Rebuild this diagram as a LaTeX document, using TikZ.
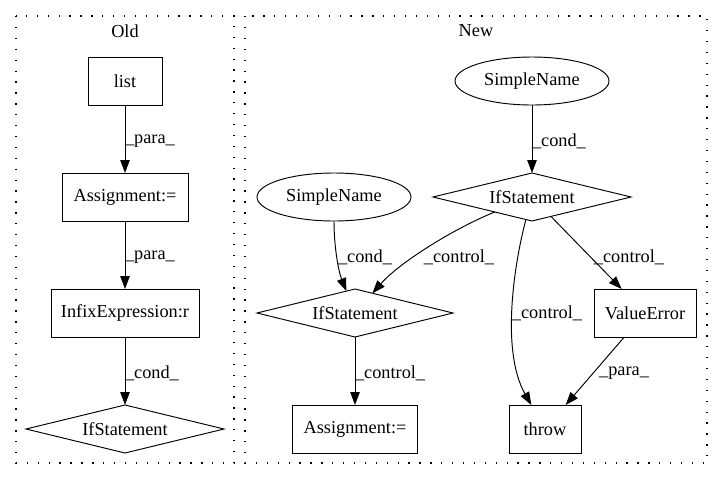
\documentclass[tikz,border=0pt]{standalone}
\usepackage{fontspec}
\setmainfont{Liberation Serif}
\usetikzlibrary{shapes.geometric,arrows.meta}
\begin{document}
\begin{tikzpicture}[x=1pt,y=-1pt,
  every node/.style={font=\fontsize{18.3}{22}\selectfont, inner sep=0pt, outer sep=0pt},
  box/.style={draw, line width=0.95pt, rectangle, minimum height=48pt},
  dia/.style={draw, line width=0.95pt, diamond, minimum height=48pt, aspect=4},
  ell/.style={draw, line width=0.95pt, ellipse, minimum width=154pt, minimum height=48pt},
  arr/.style={line width=0.95pt, -{Triangle[length=13pt,width=9.5pt]}},
  lbl/.style={anchor=west},
  cluster/.style={line width=1.1pt, dash pattern=on 1.3pt off 9.6pt}
]
\useasboundingbox (0,0) rectangle (723,480);
% clusters
\draw[cluster] (16,16) rectangle (234,463);
\draw[cluster] (245,16) rectangle (707,463);
\node (tOld) at (125,31) {Old};
\node (tNew) at (476,31) {New};

% Old
\node[box, minimum width=74pt] (list) at (125,81) {list};
\node[box, minimum width=126pt] (asgO) at (125,197) {Assignment:=};
\node[box, minimum width=148pt] (infix) at (125,313) {InfixExpression:r};
\node[dia, minimum width=198pt] (ifO) at (125,429) {IfStatement};
\draw[arr] (list) -- (asgO);
\draw[arr] (asgO) -- (infix);
\draw[arr] (infix) -- (ifO);
\node[lbl] (l1) at (125,141) {\_para\_};
\node[lbl] (l2) at (125,257) {\_para\_};
\node[lbl] (l3) at (125,373) {\_cond\_};

% New
\node[ell] (snT) at (532,81) {SimpleName};
\node[dia, minimum width=198pt] (ifT) at (532,197) {IfStatement};
\node[ell] (snL) at (334,197) {SimpleName};
\node[dia, minimum width=196pt] (ifM) at (355,313) {IfStatement};
\node[box, minimum width=102pt] (ve) at (645,313) {ValueError};
\node[box, minimum width=125pt] (asgN) at (355,429) {Assignment:=};
\node[box, minimum width=72pt] (thr) at (545,429) {throw};

\draw[arr] (snT) -- (ifT);
\draw[arr] (snL.south) .. controls (334,245) and (338,270) .. (ifM);
\draw[arr] (ifT) .. controls (455,228) and (400,262) .. (ifM);
\draw[arr] (ifT) .. controls (515,260) and (500,350) .. (thr);
\draw[arr] (ifT) -- (ve);
\draw[arr] (ifM) -- (asgN);
\draw[arr] (ve) -- (thr);

\node[lbl] (n1) at (532,141) {\_cond\_};
\node (n2) at (365,257) {\_cond\_};
\node (n3) at (459,257) {\_control\_};
\node (n4) at (629,257) {\_control\_};
\node (n5) at (547,313) {\_control\_};
\node[lbl] (n6) at (355,373) {\_control\_};
\node (n7) at (624,373) {\_para\_};
\end{tikzpicture}
\end{document}
